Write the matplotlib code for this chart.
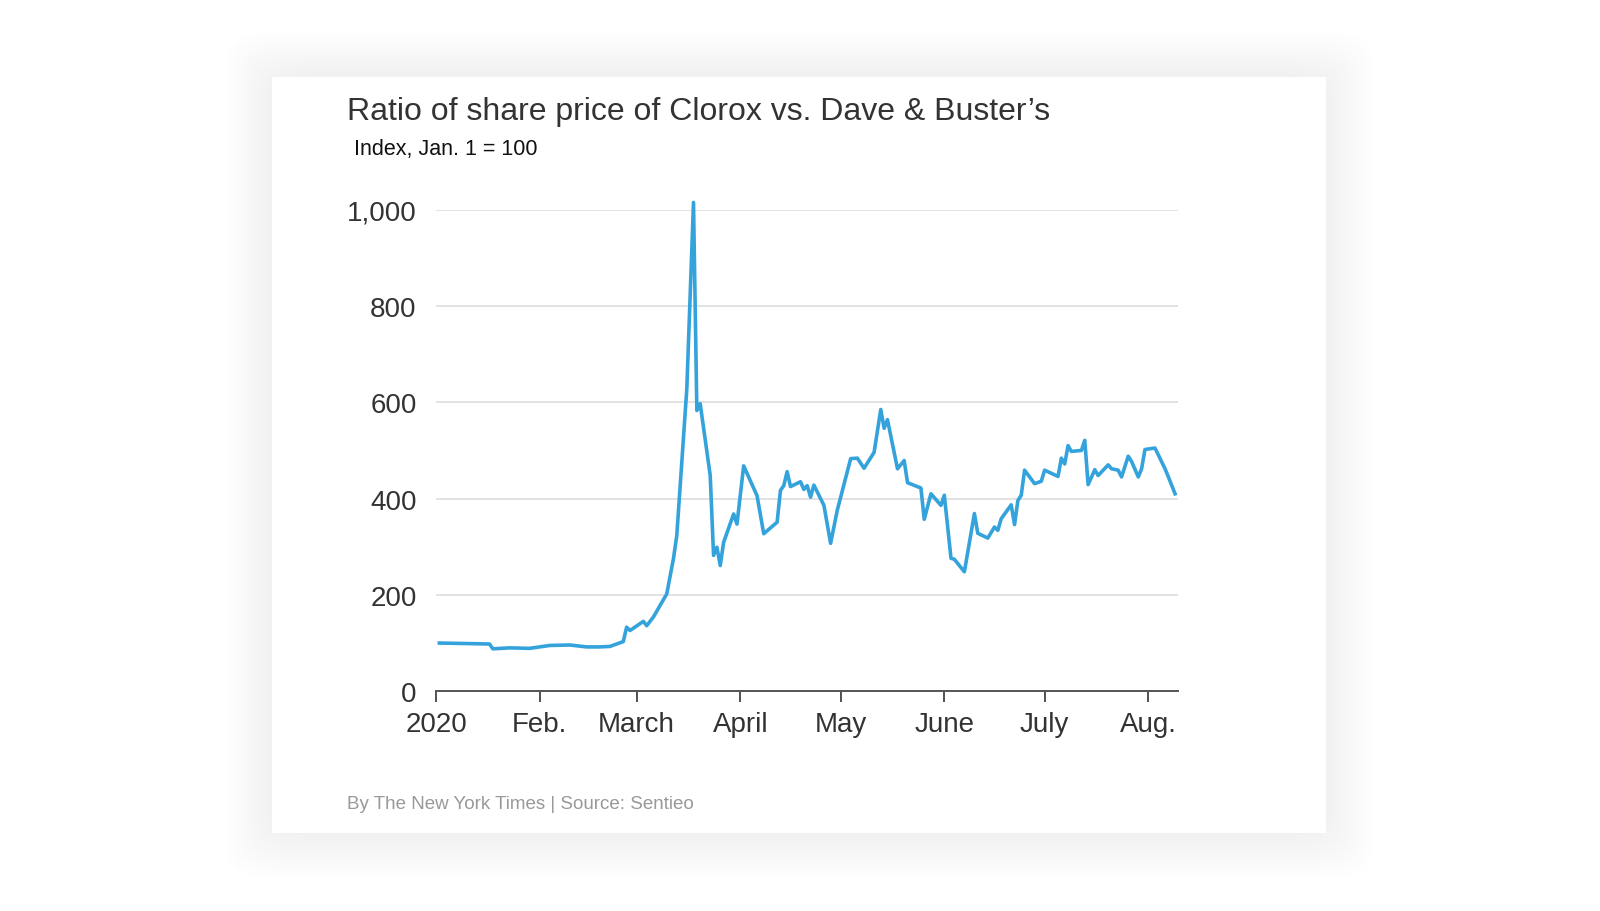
import matplotlib
matplotlib.use("Agg")
import matplotlib.pyplot as plt
from matplotlib.patches import FancyBboxPatch
import pandas as pd

# days since Jan. 1, 2020 and index value
days = [1, 9, 16, 17, 22, 28, 34, 40, 45, 49, 52, 56, 57, 58, 62, 63, 65, 69, 71, 72, 75, 77,
        78, 79, 82, 83, 84, 85, 86, 89, 90, 92, 96, 98, 102, 103, 104, 105, 106, 109, 110, 111,
        112, 113, 116, 118, 120, 124, 126, 128, 131, 133, 134, 135, 138, 140, 141, 145, 146,
        148, 151, 152, 154, 155, 158, 161, 162, 165, 167, 168, 169, 172, 173, 174, 175, 176,
        179, 181, 182, 186, 187, 188, 189, 190, 193, 194, 195, 197, 198, 201, 202, 204, 205,
        207, 208, 210, 211, 212, 215, 218, 219, 221]
values = [100, 99, 98, 88, 90, 89, 95, 96, 92, 92, 93, 103, 133, 126, 145, 136, 154, 202, 275,
          323, 628, 1015, 583, 597, 448, 282, 299, 261, 309, 368, 347, 468, 406, 327, 351, 417,
          427, 456, 425, 435, 419, 427, 403, 428, 386, 307, 376, 483, 484, 463, 496, 585, 546,
          564, 462, 479, 433, 422, 357, 410, 386, 407, 276, 274, 248, 369, 328, 318, 341, 334,
          358, 387, 346, 396, 407, 459, 431, 436, 459, 446, 484, 472, 510, 498, 500, 521, 429,
          460, 448, 470, 462, 459, 445, 488, 477, 445, 462, 502, 505, 462, 445, 410]
month_labels = ["2020", "Feb.", "March", "April", "May", "June", "July", "Aug."]
y_ticks = [0, 200, 400, 600, 800, 1000]

dates = pd.Timestamp("2020-01-01") + pd.to_timedelta(days, unit="D")

plt.rcParams["font.family"] = ["Liberation Sans", "DejaVu Sans"]
fig = plt.figure(figsize=(16, 9.12), dpi=100)
fig.patch.set_facecolor("white")

# soft card shadow, many faint layers
n = 14
for i in range(n):
    pad = 0.05 * (1 - i / n)
    fig.patches.append(FancyBboxPatch((0.17 - pad * 0.57, 0.085 - pad), 0.659 + pad * 1.14,
                                      0.83 + 2 * pad, boxstyle="round,pad=0,rounding_size=0.03",
                                      transform=fig.transFigure, fc="#000000", ec="none",
                                      alpha=0.0035, zorder=0))
fig.patches.append(plt.Rectangle((0.17, 0.085), 0.659, 0.83, transform=fig.transFigure,
                                 fc="white", ec="none", zorder=1))

ax = fig.add_axes([0.2725, 0.241, 0.464, 0.528])
ax.set_zorder(2)
ax.patch.set_alpha(0)
ax.plot(dates, values, color="#34a3dc", lw=2.6, clip_on=False, zorder=3)

ax.set_xlim(pd.Timestamp("2020-01-01"), pd.Timestamp("2020-08-10"))
ax.set_ylim(0, 1000)
ax.set_yticks(y_ticks)
ax.set_yticklabels([f"{v:,}" for v in y_ticks])
ax.yaxis.grid(True, color="#dddddd", lw=1.2)
ax.tick_params(axis="y", length=0, pad=14, labelsize=20, labelcolor="#333333")

ticks = pd.date_range("2020-01-01", "2020-08-01", freq="MS")
ax.set_xticks(ticks)
ax.set_xticklabels(month_labels)
ax.tick_params(axis="x", direction="out", length=8, width=1.2, color="#333333",
               labelsize=20, labelcolor="#333333", pad=6)
for s in ["top", "right", "left"]:
    ax.spines[s].set_visible(False)
ax.spines["bottom"].set_color("#555555")
ax.spines["bottom"].set_linewidth(1.4)
ax.set_axisbelow(True)

fig.text(0.217, 0.877, "Ratio of share price of Clorox vs. Dave & Buster’s", fontsize=23,
         color="#333333", va="center", zorder=3)
fig.text(0.221, 0.836, "Index, Jan. 1 = 100", fontsize=15.5, color="#111111", va="center",
         zorder=3)
fig.text(0.217, 0.118, "By The New York Times | Source: Sentieo", fontsize=13.5,
         color="#999999", va="center", zorder=3)

fig.savefig("out.png", dpi=100)
